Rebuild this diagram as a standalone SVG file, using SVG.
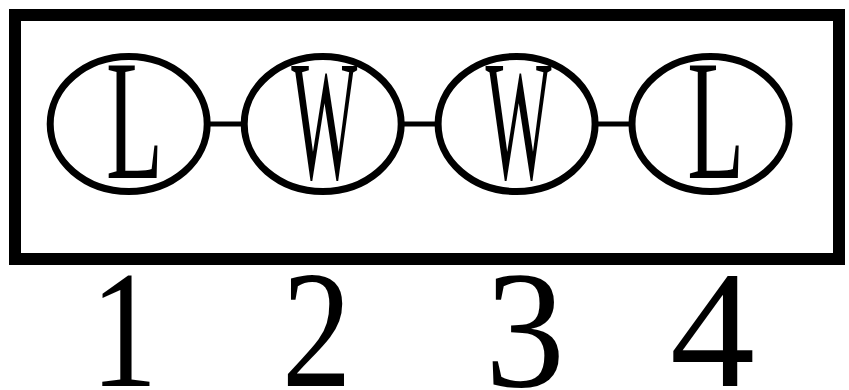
<svg xmlns="http://www.w3.org/2000/svg" width="849" height="390" viewBox="0 0 849 390">
<style>
.frame{fill:none;stroke:#000;stroke-width:12}
.node ellipse{fill:none;stroke:#000;stroke-width:7}
.conn line{stroke:#000;stroke-width:5}
.lbl{font-family:"Liberation Serif","Times New Roman",serif;font-size:171px;fill:#000;text-anchor:middle}
.num{font-family:"Liberation Serif","Times New Roman",serif;font-size:168px;fill:#000;text-anchor:middle}
</style>
<rect width="849" height="390" fill="#fff"/>
<rect class="frame" x="15" y="15" width="824" height="244"/>
<g class="conn" id="connectors">
<line x1="207" y1="124" x2="244.5" y2="124"/>
<line x1="401" y1="124" x2="438.5" y2="124"/>
<line x1="595" y1="124" x2="632.5" y2="124"/>
</g>
<g class="node" id="node1">
<ellipse cx="128.7" cy="124" rx="78.5" ry="67.5"/>
<text class="lbl" x="134.5" y="178" textLength="57" lengthAdjust="spacingAndGlyphs">L</text>
</g>
<g class="node" id="node2">
<ellipse cx="322.7" cy="124" rx="78.5" ry="67.5"/>
<text class="lbl" x="324.2" y="178" textLength="66" lengthAdjust="spacingAndGlyphs">W</text>
</g>
<g class="node" id="node3">
<ellipse cx="516.6" cy="124" rx="78.5" ry="67.5"/>
<text class="lbl" x="518.4" y="178" textLength="66" lengthAdjust="spacingAndGlyphs">W</text>
</g>
<g class="node" id="node4">
<ellipse cx="710.5" cy="124" rx="78.5" ry="67.5"/>
<text class="lbl" x="715.8" y="178" textLength="57" lengthAdjust="spacingAndGlyphs">L</text>
</g>
<g id="numbers">
<text class="num" x="124" y="386" textLength="67" lengthAdjust="spacingAndGlyphs">1</text>
<text class="num" x="316.7" y="386" textLength="70" lengthAdjust="spacingAndGlyphs">2</text>
<text class="num" x="525" y="386" textLength="80" lengthAdjust="spacingAndGlyphs">3</text>
<text class="num" x="712.5" y="386" textLength="85" lengthAdjust="spacingAndGlyphs">4</text>
</g>
</svg>
